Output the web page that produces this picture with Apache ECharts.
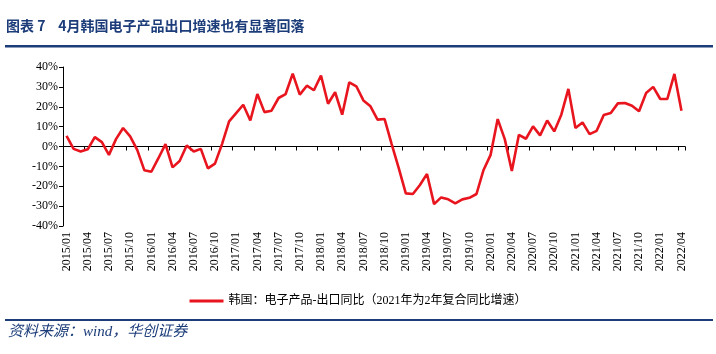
<!DOCTYPE html>
<html>
<head>
<meta charset="utf-8">
<script src="https://cdn.jsdelivr.net/npm/echarts@6/dist/echarts.min.js"></script>
<style>
  html, body { margin: 0; padding: 0; background: #fff; }
  #main { width: 716px; height: 354px; }
</style>
</head>
<body>
<div id="main"></div>
<script>
// 月份：2015/01 - 2022/04
const months = [];
for (let y = 2015; y <= 2022; y++) {
  for (let m = 1; m <= 12; m++) {
    if (y === 2022 && m > 4) break;
    months.push(y + '/' + (m < 10 ? '0' + m : m));
  }
}

// 韩国：电子产品-出口同比 (%)
const exportYoy2015 = [5.4, -1.2, -2.5, -1.4, 4.7, 2.2, -4.2, 3.7, 9.3, 5.1, -1.7, -11.9];
const exportYoy2016 = [-12.7, -5.9, 1.2, -10.5, -7.3, 0.5, -2.5, -1.2, -11.0, -8.6, 1.2, 12.6];
const exportYoy2017 = [16.8, 21.0, 13.1, 26.4, 17.3, 18.0, 24.4, 26.4, 36.7, 26.1, 30.6, 28.3];
const exportYoy2018 = [35.7, 21.5, 27.3, 16.0, 32.3, 30.3, 23.2, 20.2, 13.5, 13.8, 1.2, -10.9];
const exportYoy2019 = [-23.6, -23.9, -19.4, -13.8, -29.0, -25.6, -26.6, -28.6, -26.6, -25.8, -23.9, -11.8];
const exportYoy2020 = [-4.2, 13.8, 3.7, -12.3, 5.9, 3.9, 10.1, 5.6, 13.1, 7.6, 16.0, 29.0];
const exportYoy2021 = [9.3, 12.1, 6.2, 7.9, 15.8, 16.8, 21.7, 21.9, 20.5, 17.7, 26.9, 30.0];
const exportYoy2022 = [23.9, 23.9, 36.5, 18.0];

const exportYoy = [].concat(exportYoy2015, exportYoy2016, exportYoy2017, exportYoy2018,
  exportYoy2019, exportYoy2020, exportYoy2021, exportYoy2022);

const seriesName = '韩国：电子产品-出口同比（2021年为2年复合同比增速）';

const serif = '"Liberation Serif", "Noto Sans CJK SC", serif';
const navy = '#1c3d7a';

const chart = echarts.init(document.getElementById('main'), null, { renderer: 'canvas' });

const option = {
  backgroundColor: '#fff',
  animation: false,
  grid: {
    left: 63,
    right: 31,
    top: 67,
    bottom: 128
  },
  legend: {
    data: [seriesName],
    left: 'center',
    top: 290,
    icon: 'rect',
    itemWidth: 34,
    itemHeight: 3,
    itemGap: 6,
    textStyle: { fontFamily: serif, fontSize: 12, color: '#000' }
  },
  xAxis: [
    {
      // 底部标签
      type: 'category',
      data: months,
      position: 'bottom',
      boundaryGap: true,
      axisLine: { show: false, onZero: false },
      axisTick: { show: false },
      axisLabel: {
        interval: 2,
        rotate: 90,
        margin: 6,
        fontFamily: serif,
        fontSize: 12,
        color: '#000'
      }
    },
    {
      // 零轴线及刻度
      type: 'category',
      data: months,
      position: 'top',
      boundaryGap: true,
      axisLine: { show: true, onZero: true, lineStyle: { color: '#000', width: 1 } },
      axisTick: { show: true, inside: true, interval: 2, length: 4, lineStyle: { color: '#000' } },
      axisLabel: { show: false }
    }
  ],
  yAxis: {
    type: 'value',
    min: -40,
    max: 40,
    interval: 10,
    axisLine: { show: true, lineStyle: { color: '#000', width: 1 } },
    axisTick: { show: true, length: 4, lineStyle: { color: '#000' } },
    splitLine: { show: false },
    axisLabel: {
      formatter: '{value}%',
      fontFamily: serif,
      fontSize: 12,
      color: '#000',
      margin: 5
    }
  },
  series: [
    {
      name: seriesName,
      type: 'line',
      data: exportYoy,
      symbol: 'none',
      lineStyle: { color: '#e8141e', width: 2.6 },
      itemStyle: { color: '#e8141e' }
    }
  ],
  graphic: [
    {
      type: 'text',
      left: 6,
      top: 19,
      style: {
        text: '图表 7    4月韩国电子产品出口增速也有显著回落',
        fontFamily: '"Noto Sans CJK SC", sans-serif',
        fontWeight: 'bold',
        fontSize: 14,
        fill: navy
      }
    },
    {
      type: 'rect',
      shape: { x: 5, y: 45, width: 708, height: 2.5 },
      style: { fill: navy }
    },
    {
      type: 'rect',
      shape: { x: 5, y: 319, width: 708, height: 2 },
      style: { fill: navy }
    },
    {
      type: 'text',
      left: 8,
      top: 325,
      style: {
        text: '资料来源：wind，华创证券',
        fontFamily: serif,
        fontStyle: 'italic',
        fontSize: 15,
        fill: navy
      }
    }
  ]
};

chart.setOption(option);
</script>
</body>
</html>
